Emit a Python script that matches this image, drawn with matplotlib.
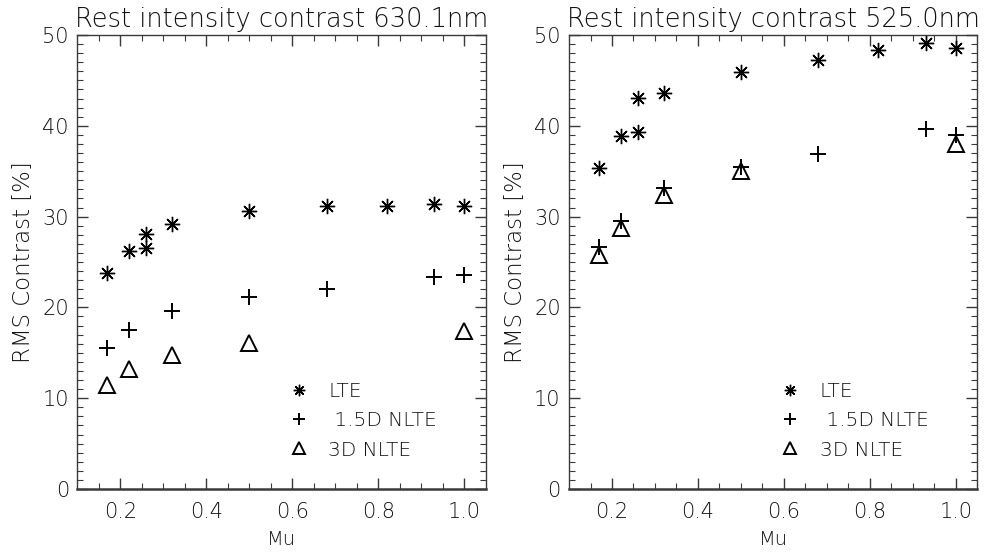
import numpy as np
import matplotlib
matplotlib.use("Agg")
import matplotlib.pyplot as plt

# --- data (mu, RMS contrast in %) ---
mu_lte = [0.17, 0.22, 0.26, 0.26, 0.32, 0.50, 0.68, 0.82, 0.93, 1.00]
mu_nlte = [0.17, 0.22, 0.32, 0.50, 0.68, 0.93, 1.00]
mu_3d = [0.17, 0.22, 0.32, 0.50, 1.00]

# 630.1 nm
lte_630 = [23.8, 26.25, 28.1, 26.5, 29.2, 30.65, 31.2, 31.2, 31.4, 31.2]
nlte_630 = [15.5, 17.5, 19.6, 21.2, 22.0, 23.4, 23.6]
d3_630 = [11.45, 13.2, 14.8, 16.1, 17.4]

# 525.0 nm
lte_525 = [35.3, 38.9, 43.1, 39.3, 43.6, 45.9, 47.2, 48.3, 49.1, 48.6]
nlte_525 = [26.6, 29.5, 33.1, 35.5, 36.9, 39.7, 38.95]
d3_525 = [25.8, 28.8, 32.4, 35.06, 38.0]

titles = ["Rest intensity contrast 630.1nm", "Rest intensity contrast 525.0nm"]
labels = ["LTE", " 1.5D NLTE", "3D NLTE"]

txtc = "#111111"
plt.rcParams['font.family'] = ['DejaVu Sans']
plt.rcParams['font.weight'] = 'light'
plt.rcParams['axes.titleweight'] = 'light'
plt.rcParams['axes.labelweight'] = 'light'
plt.rcParams['text.color'] = txtc

fig = plt.figure(figsize=(9.86, 5.54), dpi=100)
ax1 = fig.add_axes([0.0784, 0.1173, 0.4145, 0.8195])
ax2 = fig.add_axes([0.5771, 0.1173, 0.4141, 0.8195])

star = (8, 2, 0)
sets = [(ax1, lte_630, nlte_630, d3_630, titles[0]),
        (ax2, lte_525, nlte_525, d3_525, titles[1])]

for ax, lte, nlte, d3, ttl in sets:
    ax.plot(mu_lte, lte, ls='none', marker=star, ms=11, mew=1.0, color='k', label=labels[0])
    ax.plot(mu_nlte, nlte, ls='none', marker='+', ms=11.5, mew=1.4, color='k', label=labels[1])
    ax.plot(mu_3d, d3, ls='none', marker='^', ms=11, mew=1.4, mfc='none', mec='k', label=labels[2])

    ax.set_xlim(0.1, 1.05)
    ax.set_ylim(0, 50)
    ax.set_xticks([0.2, 0.4, 0.6, 0.8, 1.0])
    ax.set_xticklabels(["0.2", "0.4", "0.6", "0.8", "1.0"])
    ax.set_xticks(np.arange(0.15, 1.05, 0.05), minor=True)
    ax.set_yticks([0, 10, 20, 30, 40, 50])
    ax.set_yticks(np.arange(0, 51, 1), minor=True)
    ax.tick_params(which='both', direction='in', top=True, right=True, colors='#3a3a3a',
                   labelcolor=txtc, labelsize=15)
    ax.tick_params(which='major', length=8, width=1)
    ax.tick_params(which='minor', length=4, width=0.8)
    ax.tick_params(axis='x', pad=9)
    ax.tick_params(axis='y', pad=6)
    for s in ax.spines.values():
        s.set_color('#3a3a3a')
        s.set_linewidth(1)
    ax.spines['bottom'].set_linewidth(1.8)

    ax.set_title(ttl, fontsize=18.5, color=txtc, pad=6)
    ax.set_xlabel("Mu", fontsize=14, color=txtc, labelpad=6)
    ax.set_ylabel("RMS Contrast [%]", fontsize=16.5, color=txtc, labelpad=6)

    leg = ax.legend(loc='lower left', bbox_to_anchor=(0.52, 0.065), frameon=False,
                    numpoints=1, markerscale=0.75, handlelength=0.9, handletextpad=1.0,
                    labelspacing=0.5, borderpad=0, borderaxespad=0, fontsize=14.5)
    for t in leg.get_texts():
        t.set_color(txtc)

fig.savefig("out.png", dpi=100)
